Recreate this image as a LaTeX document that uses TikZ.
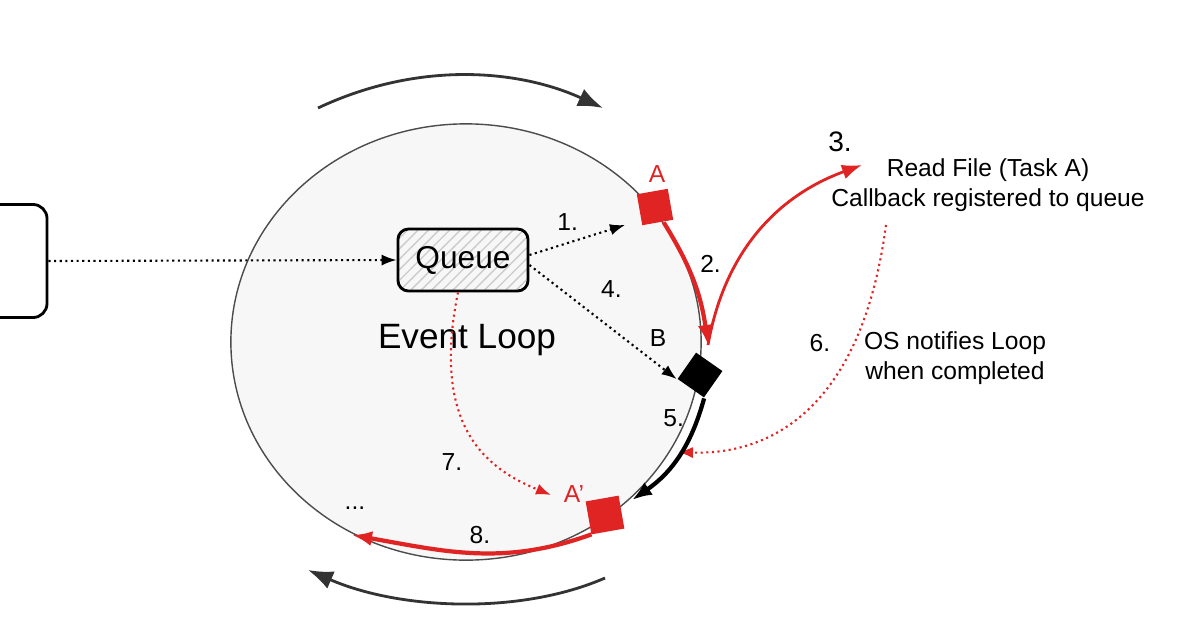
\documentclass[tikz,border=0pt]{standalone}
\usepackage{fontspec}
\setmainfont{Liberation Sans}
\usetikzlibrary{patterns,arrows.meta,shapes.geometric}
\definecolor{redx}{RGB}{224,36,36}
\begin{document}
\begin{tikzpicture}[x=0.01cm, y=-0.01cm, font=\fontsize{7}{8.5}\selectfont,
  dot/.style={densely dotted, semithick, -{Latex[length=1.5mm]}},
  redline/.style={redx, very thick, -{Latex[length=2mm]}}]
  \fill[white] (0,0) rectangle (1200,627);
  \useasboundingbox (0,0) rectangle (1200,627);
  \node[ellipse, draw=black!70, fill=gray!6, minimum width=4.7cm, minimum height=4.36cm] (loop) at (466,342) {};
  \node[font=\fontsize{10}{12}\selectfont] (title) at (467,340) {Event Loop};
  \node[rectangle, rounded corners=4pt, draw, thick, minimum width=0.8cm, minimum height=1.13cm] (src) at (7,261) {};
  \node[rectangle, rounded corners=3pt, draw, thick, pattern=north east lines, pattern color=gray!40, minimum width=1.3cm, minimum height=0.62cm, font=\fontsize{9}{11}\selectfont] (queue) at (463,260) {Queue};
  \node[rectangle, fill=redx, draw=redx, minimum size=0.3cm, inner sep=0, rotate=10] (a) at (655,207) {};
  \node[redx] at (657,174) {A};
  \node[diamond, fill=black, minimum size=0.46cm, inner sep=0, rotate=10] (b) at (700,375) {};
  \node at (658,338) {B};
  \node[rectangle, fill=redx, draw=redx, minimum size=0.32cm, inner sep=0, rotate=10] (a2) at (605,515) {};
  \node[redx] at (574,494) {A'};
  \coordinate (in3) at (862,165);
  \coordinate (in6) at (678,452);
  \coordinate (end8) at (352,535);
  \draw[dot] (src.east) -- (queue.west);
  \draw[dot] (queue.east) ++(0,-5) -- (625,225) node[pos=0.4, above] {1.};
  \draw[dot] (queue.east) ++(0,5) -- (b.west) node[pos=0.4, above right] {4.};
  \draw[redline] (a.south) ++(6,0) to[bend left=12] node[right, black, pos=0.35] {2.} (708,345);
  \draw[redline, thick] (708,345) to[out=80, in=200] (in3);
  \node[font=\fontsize{8}{10}\selectfont] at (840,142) {3.};
  \node[align=center] (task) at (988,185) {Read File (Task A)\\Callback registered to queue};
  \draw[redx, densely dotted, semithick, -{Latex[length=1.5mm]}] (886,225) .. controls (860,420) and (760,455) .. (in6);
  \node at (820,343) {6.};
  \node[align=center] (os) at (955,358) {OS notifies Loop\\when completed};
  \draw[black, very thick, -{Latex[length=2mm]}] (b.south) to[bend left=20] node[left, pos=0.15] {5.} (632,500);
  \draw[redx, densely dotted, semithick, -{Latex[length=1.5mm]}] (queue.south) ++(-5,0) .. controls (430,430) and (490,470) .. (551,495);
  \node at (452,462) {7.};
  \draw[redline] (a2.south west) to[out=200, in=-10] (end8);
  \node at (480,535) {8.};
  \node at (355,508) {...};
  \draw[thick, black!80, -{Latex[length=2.5mm]}] (318,108) .. controls (420,60) and (520,70) .. (603,108);
  \draw[thick, black!80, -{Latex[length=2.5mm]}] (605,578) .. controls (520,615) and (400,610) .. (308,570);
\end{tikzpicture}
\end{document}
